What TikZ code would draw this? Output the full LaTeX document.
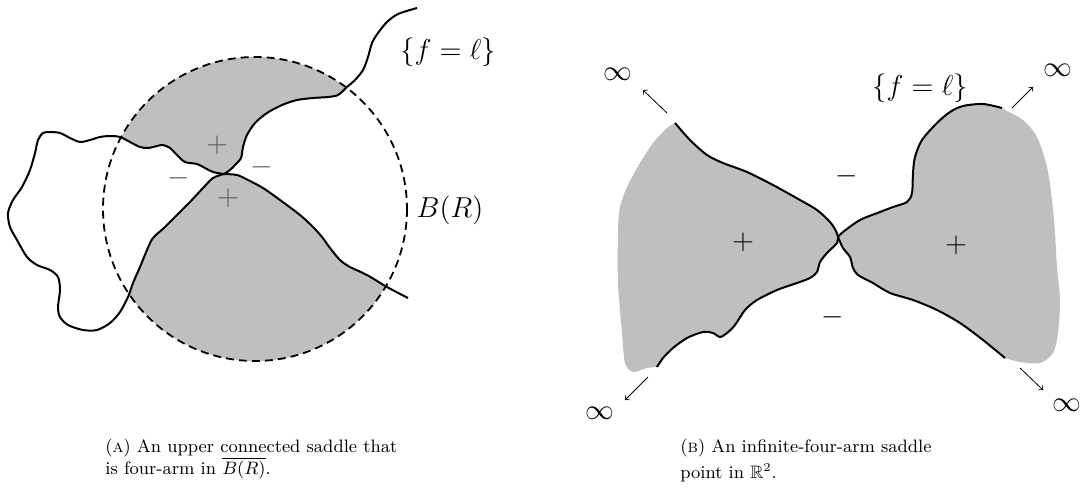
\documentclass[tikz,border=0pt]{standalone}
\usepackage{amsmath, amssymb}
\begin{document}
\begin{tikzpicture}[x=0.5pt,y=-0.5pt,
    level/.style={line width=1pt},
    ball/.style={line width=0.9pt, dash pattern=on 4pt off 2.5pt},
    sign/.style={font=\Large},
    dimsign/.style={font=\Large, text=black!65},
    escape/.style={->, line width=0.4pt},
    subcap/.style={font=\small, align=left, inner sep=0pt, anchor=north west}]
    \useasboundingbox (0,0) rectangle (1083,499);

    % (a) the ball B(R) and the level set
    \fill[black!25] (255,209) circle[radius=152];
    \filldraw[fill=white, level] plot[smooth] coordinates {(224,174) (213,172) (205,168) (197,164) (185,162) (177,155) (170,148) (163,145) (157,146) (148,148) (140,147) (130,142) (120,137) (110,136) (100,137) (90,140) (80,142) (70,138) (60,133) (50,132) (43,133) (38,140) (35,153) (30,170) (22,187) (13,200) (8,213) (10,227) (17,240) (27,257) (37,265) (50,270) (58,277) (60,290) (58,307) (60,317) (68,325) (83,330) (97,330) (110,323) (120,312) (128,297) (133,283) (140,267) (147,250) (153,238) (165,227) (177,215) (190,202) (203,188) (213,178) (224,174)};
    \filldraw[fill=white, level] plot[smooth] coordinates {(417,8) (398,14) (387,22) (378,33) (372,43) (368,57) (363,70) (355,80) (347,87) (338,95) (328,97) (313,98) (297,100) (282,105) (267,113) (255,123) (247,135) (243,147) (241,158) (235,165) (230,170) (224,174)}
        -- plot[smooth] coordinates {(224,174) (237,175) (248,180) (263,188) (280,200) (300,215) (313,227) (322,237) (330,248) (340,260) (350,267) (367,275) (387,287) (408,298)};
    \draw[ball] (255,209) circle[radius=152];

    \node[dimsign] (plusup) at (217,145) {$+$};
    \node[dimsign] (pluslow) at (228,198) {$+$};
    \node[dimsign] (minusleft) at (179,178) {$-$};
    \node[dimsign] (minusright) at (262,167) {$-$};
    \node[sign] (levela) at (448,52) {$\{f=\ell\}$};
    \node[sign] (ballname) at (450,210) {$B(R)$};

    % (b) the saddle in the whole plane
    \fill[black!25] plot[smooth] coordinates {(657,367) (647,368) (633,372) (625,363) (622,333) (618,283) (618,233) (620,207) (627,187) (640,163) (653,143) (667,128) (675,123)} -- (720,245) -- cycle;
    \filldraw[fill=black!25, level] plot[smooth] coordinates {(675,123) (690,140) (707,155) (723,163) (747,172) (773,185) (800,200) (817,210) (830,222) (836,231) (838,237)}
        -- plot[smooth] coordinates {(838,237) (837,243) (827,253) (820,262) (817,272) (810,278) (797,283) (777,290) (757,300) (745,310) (735,325) (727,333) (720,337) (713,333) (703,332) (687,338) (673,348) (663,358) (657,367)};
    \fill[black!25] plot[smooth] coordinates {(1005,358) (1020,362) (1040,363) (1053,353) (1058,333) (1060,300) (1057,267) (1055,233) (1052,200) (1047,167) (1037,137) (1023,120) (1007,111) (1002,108)} -- (960,235) -- cycle;
    \filldraw[fill=black!25, level] plot[smooth] coordinates {(1002,108) (983,104) (963,106) (950,112) (937,123) (922,140) (915,157) (913,173) (912,193) (907,202) (893,207) (880,212) (860,220) (843,232) (838,237)}
        -- plot[smooth] coordinates {(838,237) (843,248) (850,257) (853,268) (858,275) (873,283) (890,293) (913,300) (937,310) (960,323) (983,340) (1005,358)};

    \coordinate (nwfrom) at (667,113);
    \coordinate (nwto) at (643,90);
    \coordinate (nefrom) at (1012,108);
    \coordinate (neto) at (1033,87);
    \coordinate (swfrom) at (648,377);
    \coordinate (swto) at (625,400);
    \coordinate (sefrom) at (1020,368);
    \coordinate (seto) at (1043,390);
    \draw[escape] (nwfrom) -- (nwto);
    \draw[escape] (nefrom) -- (neto);
    \draw[escape] (swfrom) -- (swto);
    \draw[escape] (sefrom) -- (seto);
    \node[sign] (infnw) at (618,74) {$\infty$};
    \node[sign] (infne) at (1058,70) {$\infty$};
    \node[sign] (infsw) at (600,413) {$\infty$};
    \node[sign] (infse) at (1067,405) {$\infty$};

    \node[sign] (levelb) at (920,88) {$\{f=\ell\}$};
    \node[sign] (minustop) at (847,176) {$-$};
    \node[sign] (minusbot) at (833,317) {$-$};
    \node[sign] (plusleft) at (743,242) {$+$};
    \node[sign] (plusright) at (956,245) {$+$};

    % captions
    \node[subcap] (capa) at (105,439) {(\textsc{a}) An upper connected saddle that\\ is four-arm in $\overline{B(R)}$.};
    \node[subcap] (capb) at (680,439) {(\textsc{b}) An infinite-four-arm saddle\\[2pt] point in $\mathbb{R}^2$.};
\end{tikzpicture}
\end{document}
